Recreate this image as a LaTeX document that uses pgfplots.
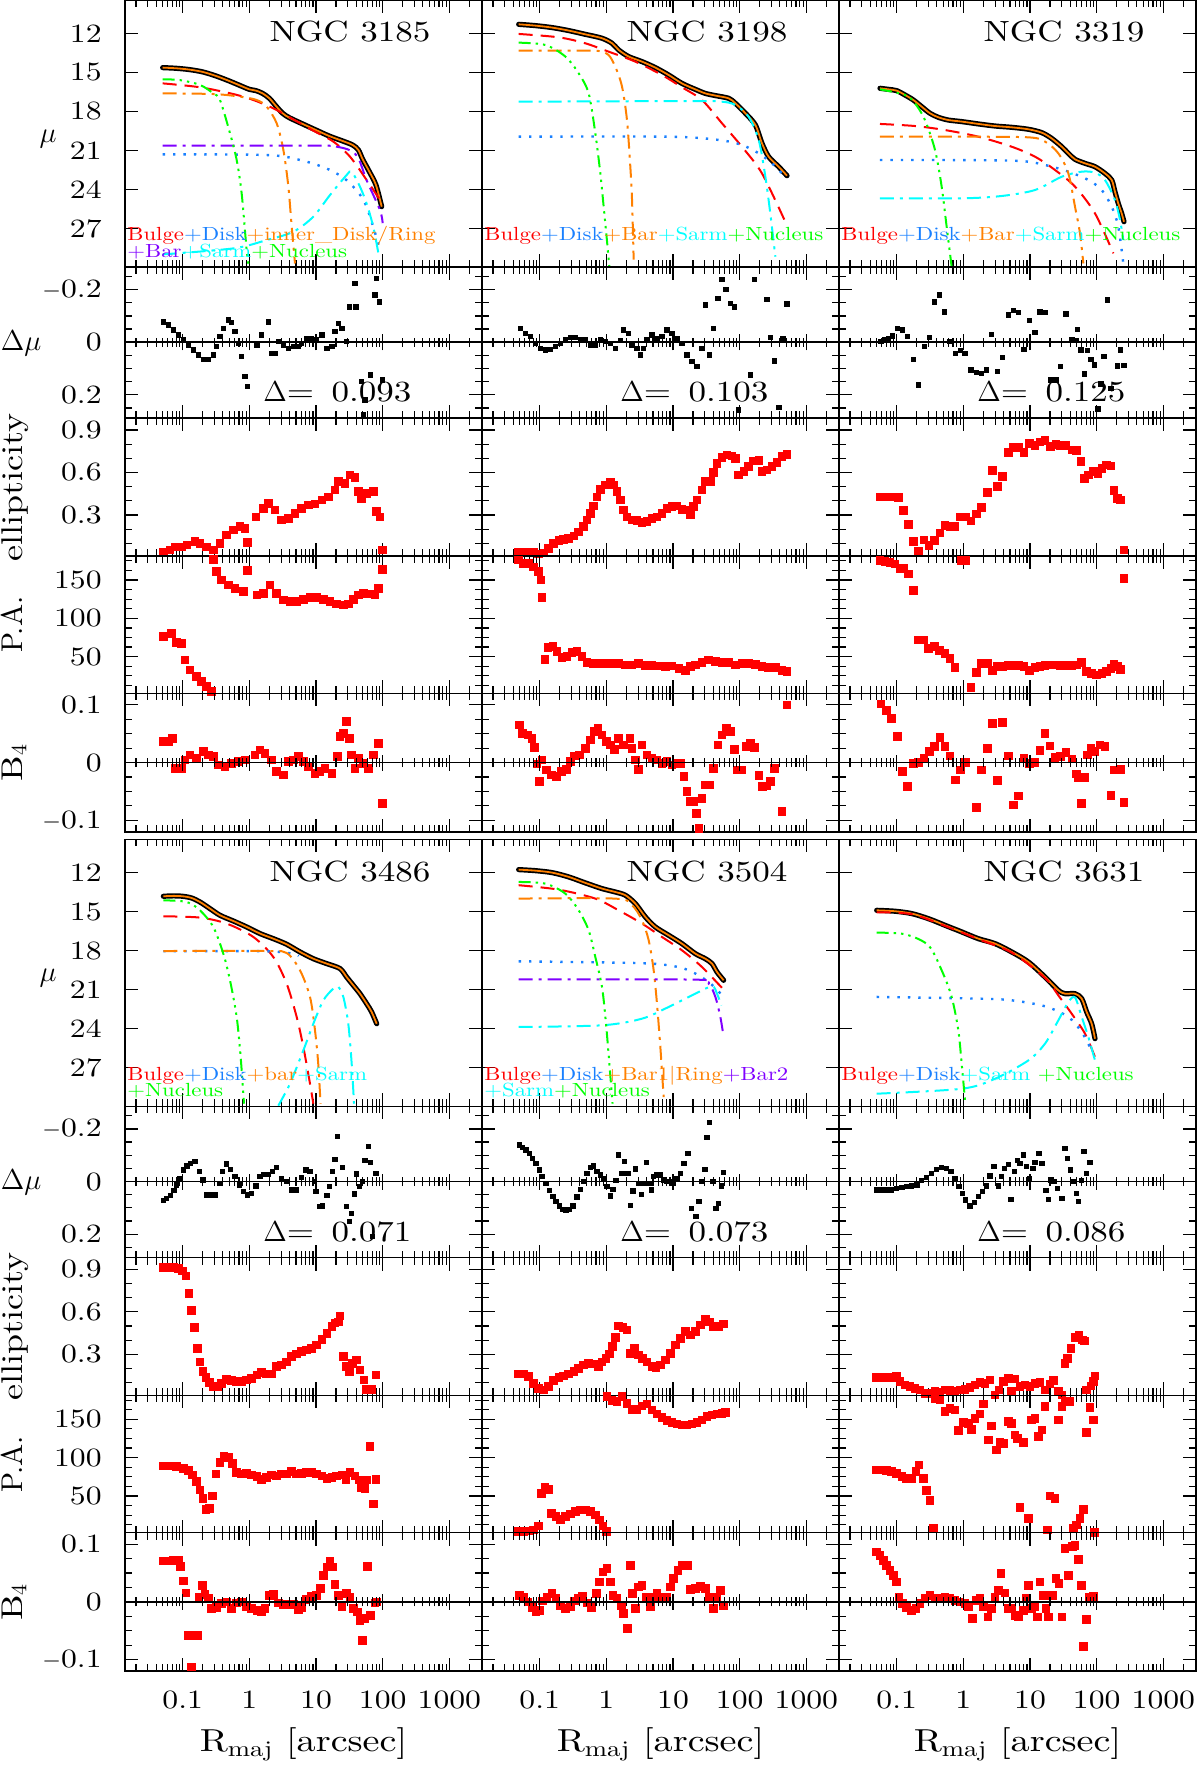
\documentclass[border=0pt]{standalone}
\usepackage{fontspec}
\setmainfont{lmroman10-regular.otf}[FakeStretch=1.2]
\usepackage{pgfplots}
\pgfplotsset{compat=1.18}
\usepackage{pgfplotstable}
\definecolor{cred}{rgb}{1,0,0}
\definecolor{cblue}{rgb}{0.1,0.5,1}
\definecolor{corange}{rgb}{1,0.5,0}
\definecolor{ccyan}{rgb}{0,1,1}
\definecolor{cgreen}{rgb}{0,1,0}
\definecolor{cpurple}{rgb}{0.5,0,1}
\newcommand\fs[1]{\fontsize{#1}{#1}\selectfont}
\newcommand\AX[2]{\begin{semilogxaxis}[scale only axis, width=178.5pt, anchor=north west, xmin=0.01365, xmax=3090,
  xtick={0.1,1,10,100,1000},
  minor xtick={0.02,0.03,0.04,0.05,0.06,0.07,0.08,0.09,0.2,0.3,0.4,0.5,0.6,0.7,0.8,0.9,2,3,4,5,6,7,8,9,20,30,40,50,60,70,80,90,200,300,400,500,600,700,800,900,2000,3000},
  xticklabels={}, axis line style={line width=0.8pt}, tick style={line width=0.6pt, black},
  major tick length=6.5pt, minor tick length=3.5pt,
  tick label style={font=\fs{13.2}, inner sep=0pt}, yticklabel style={xshift=-11.5pt},
  xticklabel style={yshift=-9.5pt}, at={(#1)}, #2]}
\newcommand\EX{\end{semilogxaxis}}
\newcommand\MU[2]{\AX{#1}{height=133.5pt, y dir=reverse, ymin=9.44, ymax=29.97, ytick={12,15,18,21,24,27}, yticklabels={12,15,18,21,24,27}, #2}}
\newcommand\DM[2]{\AX{#1}{height=75.65pt, y dir=reverse, ymin=-0.286, ymax=0.289, ytick={-0.2,0,0.2}, yticklabels={$-$0.2,0,0.2}, minor ytick={-0.25,-0.15,-0.1,-0.05,0.05,0.1,0.15,0.25}, #2}}
\newcommand\EL[2]{\AX{#1}{height=68.85pt, ymin=0.011, ymax=0.982, ytick={0.3,0.6,0.9}, yticklabels={0.3,0.6,0.9}, minor ytick={0.1,0.2,0.4,0.5,0.7,0.8}, #2}}
\newcommand\PA[2]{\AX{#1}{height=68.65pt, ymin=2.2, ymax=181.3, ytick={50,100,150}, yticklabels={50,100,150}, minor ytick={12.5,25,37.5,62.5,75,87.5,112.5,125,137.5,162.5,175}, #2}}
\newcommand\BF[2]{\AX{#1}{height=69.2pt, ymin=-0.1197, ymax=0.12, ytick={-0.1,0,0.1}, yticklabels={$-$0.1,0,0.1}, minor ytick={-0.075,-0.05,-0.025,0.025,0.05,0.075}, #2}}
\newcommand\ZL[1]{\begin{semilogxaxis}[scale only axis, width=178.5pt, height=2pt, anchor=west, at={(#1)}, xmin=0.01365, xmax=3090, ymin=-1, ymax=1,
  axis x line*=middle, axis y line=none, xtick={0.1,1,10,100,1000},
  minor xtick={0.02,0.03,0.04,0.05,0.06,0.07,0.08,0.09,0.2,0.3,0.4,0.5,0.6,0.7,0.8,0.9,2,3,4,5,6,7,8,9,20,30,40,50,60,70,80,90,200,300,400,500,600,700,800,900,2000,3000},
  xticklabels={}, tick align=center, major tick length=8pt, minor tick length=4.5pt,
  axis line style={line width=0.8pt}, tick style={line width=0.6pt, black}]\end{semilogxaxis}}
\tikzset{
 myProf/.style={black, line width=2.6pt, line cap=round, line join=round, smooth, no marks},
 myFit/.style={corange, line width=0.9pt, smooth, no marks},
 myBul/.style={cred, line width=1pt, dash pattern=on 7pt off 4pt, smooth, no marks},
 myDsk/.style={cblue, line width=1.2pt, dash pattern=on 1.2pt off 4pt, smooth, no marks},
 myDd/.style={line width=1pt, dash pattern=on 7pt off 3pt on 1.5pt off 3pt, smooth, no marks},
 myNuc/.style={cgreen, line width=1pt, dash pattern=on 6pt off 2.5pt on 1.2pt off 2.5pt on 1.2pt off 2.5pt on 1.2pt off 2.5pt, smooth, no marks},
 myDm/.style={black, only marks, mark=square*, mark size=1.1pt},
 myRs/.style={cred, only marks, mark=square*, mark size=1.9pt},
}
\pgfplotstableread{
r m
0.0501 14.64
0.0794 14.69
0.126 14.79
0.2 14.97
0.316 15.28
0.501 15.67
0.794 16.10
1 16.31
1.26 16.41
1.58 16.62
2.0 17.0
2.51 17.59
3.16 18.15
3.98 18.49
6.31 18.97
10 19.44
15.8 19.9
25.1 20.28
35.5 20.59
43.2 20.97
50.1 21.69
63.1 22.64
79.4 23.67
96.6 25.33
}\pA
\pgfplotstableread{
r m
0.0484 11.31
0.0861 11.41
0.153 11.56
0.272 11.79
0.484 12.08
0.861 12.38
1.22 12.77
1.53 13.28
2.16 13.79
3.43 14.18
5.43 14.64
8.61 15.21
13.6 15.85
21.6 16.31
30.5 16.62
43.2 16.79
68.4 17.0
86.1 17.38
122 18.15
172 19.05
216 20.46
272 21.49
385 22.26
513 22.95
}\pB
\pgfplotstableread{
r m
0.0562 16.23
0.075 16.31
0.1 16.41
0.133 16.74
0.178 17.13
0.237 17.64
0.316 18.15
0.422 18.46
0.596 18.67
0.944 18.79
1.68 18.97
2.99 19.13
5.31 19.23
9.44 19.38
15.0 19.64
21.1 20.08
29.9 20.72
37.6 21.23
47.3 21.69
66.8 22.0
94.4 22.26
133 22.77
168 23.28
188 24.18
211 25.08
237 25.85
257 26.49
}\pC
\pgfplotstableread{
r m
0.0513 13.82
0.0724 13.79
0.1 13.82
0.136 13.95
0.182 14.26
0.257 14.77
0.363 15.28
0.575 15.72
0.912 16.18
1.45 16.69
2.29 17.08
3.63 17.51
5.75 18.1
9.12 18.62
14.5 19.0
22.9 19.38
28.8 20.03
36.3 20.67
45.7 21.31
57.5 22.08
68.4 22.72
81.3 23.62
}\pD
\pgfplotstableread{
r m
0.0484 11.77
0.0861 11.85
0.153 12.0
0.272 12.33
0.484 12.79
0.861 13.23
1.36 13.49
1.93 13.74
2.72 14.38
3.85 15.41
5.43 16.18
8.61 16.82
13.6 17.46
21.6 18.23
30.5 18.62
38.5 19.0
45.7 19.64
57.5 20.28
}\pE
\pgfplotstableread{
r m
0.0501 14.9
0.0944 14.97
0.168 15.15
0.299 15.54
0.531 16.05
0.944 16.56
1.68 17.08
2.99 17.46
5.31 18.1
9.44 18.87
16.8 20.03
26.6 21.05
33.5 21.31
47.3 21.31
59.6 21.69
70.8 22.72
84.1 23.62
94.4 24.77
}\pF
\begin{document}
\begin{tikzpicture}
\useasboundingbox (0,0) rectangle (600pt,-885pt);
%================ NGC 3185 =================
\MU{62.5pt,0pt}{}
\addplot[myProf] table[x=r,y=m]{\pA};
\addplot[myFit] table[x=r,y=m]{\pA};
\addplot[myBul] coordinates {(0.0501,15.85)(0.182,16.15)(0.575,16.67)(1.15,17.13)(2.29,17.77)(4.57,18.62)(9.12,19.49)(18.2,20.33)(32.4,21.49)(57.5,23.28)(91.2,24.82)};
\addplot[myDsk] coordinates {(0.0501,21.31)(1.82,21.36)(5.75,21.74)(14.5,22.4)(28.8,23.3)(51.3,24.8)(72.4,26.9)(91.2,28.7)};
\addplot[myDd,corange] coordinates {(0.0501,16.62)(0.288,16.67)(0.724,16.87)(1.29,17.13)(1.82,17.64)(2.57,18.92)(3.24,20.97)(3.85,23.79)(4.32,26.87)(4.84,29.7)};
\addplot[myDd,cpurple] coordinates {(0.0501,20.64)(11.5,20.64)(20.4,20.72)(32.4,21.0)(43.2,21.6)(57.5,23.3)(91.2,25.6)(100,26.6)};
\addplot[myDd,ccyan] coordinates {(0.0501,29.0)(0.575,28.54)(1.82,27.9)(4.57,27.26)(9.12,26.1)(16.2,24.44)(28.8,22.9)(34.3,22.64)(45.7,23.8)(57.5,25.1)(72.4,26.9)(86.1,28.9)};
\addplot[myNuc] coordinates {(0.0501,15.54)(0.091,15.6)(0.182,15.97)(0.288,16.62)(0.363,17.13)(0.513,19.69)(0.646,21.74)(0.767,24.3)(0.912,28.67)(1.0,30.2)};
\EX
\DM{62.5pt,-133.5pt}{}
\addplot[myDm] coordinates {(0.0513,-0.078)(0.061,-0.066)(0.0724,-0.047)(0.0861,-0.028)(0.102,-0.009)(0.122,0.010)(0.145,0.029)(0.172,0.048)(0.204,0.065)(0.243,0.065)(0.288,0.048)(0.324,0.016)(0.363,-0.022)(0.407,-0.053)(0.484,-0.085)(0.543,-0.075)(0.61,-0.041)(0.684,0.004)(0.767,0.054)(0.861,0.130)(0.933,0.168)(1.29,0.010)(1.53,-0.028)(1.93,-0.078)(2.16,0.042)(2.43,0.042)(2.72,-0.003)(3.24,0.010)(3.85,0.023)(4.57,0.016)(5.43,0.016)(6.1,0.004)(7.24,-0.015)(8.61,-0.015)(10.2,-0.009)(12.2,-0.028)(14.5,0.023)(17.2,0.016)(19.3,-0.041)(21.6,-0.072)(24.3,-0.053)(28.8,-0.003)(31.6,-0.135)(39.8,-0.135)(38.5,-0.224)(48.4,0.149)(54.3,0.219)(51.3,0.276)(66.1,0.124)(76.7,-0.180)(89.1,-0.154)(81.3,-0.243)(100,0.143)};
\EX
\ZL{62.5pt,-171.15pt}
\EL{62.5pt,-209.15pt}{}
\addplot[myRs] coordinates {(0.0513,0.036)(0.0646,0.053)(0.0767,0.076)(0.0966,0.076)(0.115,0.088)(0.153,0.112)(0.182,0.1)(0.229,0.076)(0.288,0.053)(0.363,0.1)(0.457,0.159)(0.575,0.194)(0.724,0.218)(0.861,0.206)(0.933,0.105)(1.26,0.288)(1.62,0.347)(1.93,0.382)(2.43,0.335)(3.05,0.265)(3.85,0.276)(4.84,0.312)(6.1,0.347)(7.67,0.371)(9.66,0.378)(12.2,0.406)(15.3,0.429)(19.3,0.476)(21.6,0.535)(27.2,0.524)(32.4,0.582)(38.5,0.566)(43.2,0.465)(48.4,0.418)(57.5,0.453)(72.4,0.465)(81.3,0.324)(91.2,0.288)(100,0.053)};
\EX
\PA{62.5pt,-278pt}{}
\addplot[myRs] coordinates {(0.0513,76.1)(0.0684,80.4)(0.0813,68.3)(0.0966,67.4)(0.108,45.7)(0.129,32.6)(0.162,23.9)(0.193,17.4)(0.229,10.9)(0.272,4.3)(0.288,177)(0.324,160.9)(0.385,150)(0.484,143.5)(0.61,139.1)(0.813,134.8)(0.933,162.2)(1.29,130.4)(1.62,132.6)(2.04,143.5)(2.57,132.6)(3.24,123.9)(4.07,121.7)(5.13,121.7)(6.46,124.8)(8.13,127.4)(10.2,127.4)(12.9,124.8)(16.2,121.7)(20.4,118.7)(25.7,117.4)(30.5,118.7)(36.3,124.8)(43.2,130.4)(51.3,132.6)(64.6,131.7)(76.7,130.4)(86.1,139.1)(100,163.9)};
\EX
\BF{62.5pt,-346.65pt}{}
\addplot[myRs] coordinates {(0.0513,0.0364)(0.061,0.0364)(0.0708,0.0422)(0.0767,-0.0098)(0.0966,-0.0098)(0.108,0.0046)(0.129,0.0133)(0.162,0.0075)(0.204,0.0191)(0.243,0.0133)(0.288,0.0104)(0.343,-0.004)(0.431,-0.0069)(0.543,-0.0012)(0.684,0.0017)(0.861,0.0046)(1.22,0.0133)(1.45,0.022)(1.72,0.0162)(2.16,0.0046)(2.57,-0.0156)(3.24,-0.0214)(3.85,0.0017)(4.57,0.0046)(5.43,0.0104)(6.46,0.0017)(7.67,-0.0069)(9.66,-0.0185)(11.5,-0.0156)(13.6,-0.0098)(17.2,-0.0185)(20.9,0.0104)(22.9,0.0451)(25.7,0.0509)(28.8,0.0711)(31.6,0.0422)(34.3,0.0133)(38.5,-0.0098)(43.2,0.0075)(51.3,-0.0012)(61,-0.0098)(72.4,0.0133)(86.1,0.0335)(100,-0.0705)};
\EX
\ZL{62.5pt,-381.3pt}
%================ NGC 3198 =================
\MU{241pt,0pt}{yticklabels={}}
\addplot[myProf] table[x=r,y=m]{\pB};
\addplot[myFit] table[x=r,y=m]{\pB};
\addplot[myBul] coordinates {(0.0484,12.05)(0.193,12.31)(0.484,12.77)(1.08,13.41)(2.72,14.18)(6.84,15.21)(13.6,16.15)(27.2,17.13)(54.3,18.92)(108,20.72)(216,22.77)(484,26.5)};
\addplot[myDsk] coordinates {(0.0484,19.95)(8.61,19.95)(48.4,20.2)(108,20.59)(193,21.23)(305,22.0)(431,22.77)};
\addplot[myDd,corange] coordinates {(0.0484,13.33)(0.272,13.33)(0.767,13.36)(1.08,13.67)(1.36,14.56)(1.72,16.1)(2.04,18.67)(2.29,22.26)(2.43,24.82)(2.57,29.4)};
\addplot[myDd,ccyan] coordinates {(0.0484,17.26)(21.6,17.21)(54.3,17.26)(86.1,17.51)(136,18.41)(193,20.2)(243,23.03)(288,25.85)(343,29.18)};
\addplot[myNuc] coordinates {(0.0484,12.72)(0.122,12.9)(0.243,13.79)(0.385,15.08)(0.543,16.62)(0.684,19.69)(0.813,22.77)(0.912,25.33)(1.02,27.9)(1.11,29.95)};
\EX
\DM{241pt,-133.5pt}{yticklabels={}}
\addplot[myDm] coordinates {(0.0513,-0.053)(0.061,-0.034)(0.0724,-0.022)(0.0861,0.004)(0.102,0.023)(0.122,0.029)(0.145,0.027)(0.172,0.016)(0.204,0.004)(0.243,-0.009)(0.288,-0.018)(0.343,-0.018)(0.407,-0.011)(0.484,-0.009)(0.575,0.010)(0.684,0.010)(0.813,-0.009)(0.966,-0.003)(1.15,0.004)(1.36,0.023)(1.62,-0.006)(1.82,-0.047)(2.16,-0.034)(2.43,0.010)(2.88,0.023)(3.24,0.048)(3.63,0.023)(4.07,-0.009)(4.84,-0.028)(5.75,-0.015)(6.84,-0.022)(8.13,-0.047)(9.66,-0.034)(11.5,-0.015)(13.6,0.004)(16.2,0.048)(19.3,0.073)(22.9,0.092)(27.2,0.023)(30.5,-0.142)(35.1,0.048)(40.7,-0.053)(47.3,-0.167)(54.3,-0.239)(62.4,-0.201)(72.4,-0.148)(83.2,-0.135)(96.6,0.257)(145,0.124)(166,-0.239)(257,-0.163)(288,-0.019)(335,0.071)(385,0.247)(447,-0.015)(513,-0.146)};
\EX
\ZL{241pt,-171.15pt}
\EL{241pt,-209.15pt}{yticklabels={}}
\addplot[myRs] coordinates {(0.0484,0.041)(0.0575,0.041)(0.0684,0.041)(0.0813,0.041)(0.0966,0.025)(0.115,0.034)(0.136,0.065)(0.162,0.1)(0.193,0.119)(0.229,0.128)(0.272,0.135)(0.324,0.152)(0.385,0.182)(0.457,0.218)(0.513,0.265)(0.575,0.312)(0.646,0.364)(0.724,0.429)(0.813,0.481)(0.966,0.512)(1.15,0.528)(1.29,0.512)(1.45,0.465)(1.62,0.406)(1.82,0.335)(2.04,0.288)(2.43,0.265)(2.88,0.26)(3.43,0.248)(4.07,0.253)(4.84,0.276)(5.75,0.288)(6.84,0.312)(8.13,0.347)(9.66,0.359)(11.5,0.364)(13.6,0.34)(16.2,0.335)(18.2,0.3)(20.4,0.359)(22.9,0.406)(27.2,0.476)(30.5,0.535)(36.3,0.535)(40.7,0.599)(45.7,0.665)(54.3,0.707)(64.6,0.724)(76.7,0.716)(86.1,0.7)(96.6,0.582)(115,0.606)(136,0.641)(162,0.681)(193,0.684)(216,0.606)(257,0.618)(305,0.641)(363,0.669)(431,0.712)(513,0.728)};
\EX
\PA{241pt,-278pt}{yticklabels={}}
\addplot[myRs] coordinates {(0.0484,176)(0.0575,171.7)(0.0684,171.7)(0.0813,167)(0.0966,160.9)(0.105,150)(0.108,127.4)(0.119,46.5)(0.133,62.2)(0.157,63)(0.182,56.5)(0.216,49.1)(0.257,50)(0.305,55.7)(0.363,56.5)(0.431,50)(0.513,42.2)(0.646,41.3)(0.861,41.3)(1.15,41.3)(1.53,41.3)(1.93,39.1)(2.43,39.1)(3.05,41.3)(3.85,38.3)(4.84,38.3)(6.1,37.8)(7.67,37)(9.66,37.8)(12.2,34.8)(15.3,31.7)(18.2,37)(21.6,39.1)(27.2,42.2)(34.3,45.7)(43.2,43.5)(54.3,42.6)(68.4,42.6)(86.1,39.1)(108,41.3)(136,41.3)(172,40)(216,37)(272,36.1)(343,35.7)(431,31.7)(513,30.4)};
\EX
\BF{241pt,-346.65pt}{yticklabels={}}
\addplot[myRs] coordinates {(0.0501,0.0653)(0.0556,0.0509)(0.0668,0.048)(0.0767,0.0422)(0.0832,0.0266)(0.0912,-0.0023)(0.1,-0.033)(0.108,0.0046)(0.126,-0.0127)(0.15,-0.0214)(0.178,-0.0243)(0.211,-0.0156)(0.251,-0.0116)(0.288,0.0017)(0.335,0.0116)(0.398,0.0133)(0.484,0.0249)(0.575,0.0393)(0.668,0.0538)(0.75,0.0595)(0.861,0.048)(1.0,0.0364)(1.15,0.0306)(1.33,0.0231)(1.53,0.0422)(1.82,0.0306)(2.26,0.0422)(2.43,0.0249)(2.72,0.0046)(3.05,-0.0116)(3.43,0.0306)(4.07,0.0133)(4.84,0.0075)(5.75,0.0046)(6.84,-0.0012)(8.13,0.0017)(9.66,-0.004)(11.5,-0.0012)(12.9,-0.0012)(14.5,-0.0243)(16.2,-0.0503)(18.2,-0.0676)(20.4,-0.0676)(22.4,-0.0879)(24.3,-0.1139)(27.2,-0.0618)(30.5,-0.0387)(35.1,-0.0387)(40.7,-0.0098)(47.3,0.0306)(54.3,0.048)(63.1,0.0595)(72.4,0.0538)(83.2,0.0231)(91.2,-0.0127)(108,-0.0127)(124,0.0277)(145,0.0335)(168,0.0266)(193,-0.0225)(221,-0.0416)(257,-0.0405)(288,-0.033)(335,-0.0098)(431,-0.085)(513,0.1)};
\EX
\ZL{241pt,-381.3pt}
%================ NGC 3319 =================
\MU{419.5pt,0pt}{yticklabels={}}
\addplot[myProf] table[x=r,y=m]{\pC};
\addplot[myFit] table[x=r,y=m]{\pC};
\addplot[myBul] coordinates {(0.0562,18.97)(0.188,19.13)(0.531,19.44)(1.68,19.95)(5.31,20.72)(11.9,21.49)(23.7,22.51)(47.3,23.79)(94.4,25.85)(178,28.92)};
\addplot[myDsk] coordinates {(0.0562,21.74)(5.31,21.79)(16.8,22.13)(37.6,22.64)(75,23.28)(119,24.05)(168,25.33)(211,26.87)(251,29.7)};
\addplot[myDd,corange] coordinates {(0.0562,19.95)(0.944,19.95)(9.44,20.0)(16.8,20.33)(26.6,21.23)(37.6,22.77)(47.3,25.33)(56.2,27.38)(63.1,29.7)};
\addplot[myDd,ccyan] coordinates {(0.0562,24.69)(0.944,24.69)(3.76,24.51)(11.9,24.05)(29.9,23.03)(59.6,22.64)(94.4,22.72)(133,23.28)(188,24.82)(224,26.36)(251,27.9)};
\addplot[myNuc] coordinates {(0.0562,16.31)(0.133,16.74)(0.188,17.38)(0.266,18.67)(0.376,20.97)(0.473,23.79)(0.562,26.87)(0.668,29.95)};
\EX
\DM{419.5pt,-133.5pt}{yticklabels={}}
\addplot[myDm] coordinates {(0.0582,-0.003)(0.0668,-0.009)(0.075,-0.013)(0.0861,-0.024)(0.102,-0.053)(0.122,-0.047)(0.146,-0.022)(0.178,0.065)(0.211,0.162)(0.26,0.016)(0.309,-0.018)(0.367,-0.154)(0.437,-0.180)(0.519,-0.116)(0.631,-0.003)(0.767,0.042)(0.912,0.032)(1.06,0.042)(1.3,0.105)(1.58,0.115)(1.88,0.118)(2.24,0.105)(2.66,-0.030)(3.27,0.111)(3.89,0.057)(4.73,-0.104)(5.62,-0.120)(6.68,-0.113)(8.13,0.027)(9.77,-0.082)(11.9,-0.037)(14.1,-0.116)(16.8,-0.114)(20.4,0.143)(24.3,0.143)(28.8,0.092)(34.7,-0.108)(42.2,-0.011)(50.1,-0.006)(51.9,-0.049)(58.2,0.029)(65.3,0.120)(73.3,0.032)(82.2,0.065)(92.3,0.086)(104,0.254)(116,0.158)(129,0.054)(146,-0.161)(164,0.175)(204,0.090)(229,0.029)(257,0.089)};
\EX
\ZL{419.5pt,-171.15pt}
\EL{419.5pt,-209.15pt}{yticklabels={}}
\addplot[myRs] coordinates {(0.0562,0.429)(0.0668,0.429)(0.0794,0.429)(0.0944,0.429)(0.106,0.425)(0.126,0.331)(0.15,0.232)(0.178,0.112)(0.211,0.046)(0.257,0.124)(0.305,0.084)(0.367,0.119)(0.447,0.175)(0.531,0.227)(0.631,0.22)(0.75,0.22)(0.891,0.288)(1.08,0.288)(1.3,0.258)(1.58,0.307)(1.88,0.354)(2.29,0.46)(2.72,0.615)(3.27,0.5)(3.89,0.573)(4.73,0.74)(5.62,0.775)(6.68,0.775)(8.13,0.74)(9.77,0.806)(11.9,0.792)(14.1,0.815)(16.8,0.825)(20.4,0.782)(24.3,0.796)(28.8,0.792)(34.7,0.792)(42.2,0.759)(50.1,0.754)(58.2,0.676)(65.3,0.559)(75,0.582)(89.1,0.606)(104,0.594)(119,0.629)(141,0.653)(164,0.646)(182,0.472)(204,0.418)(229,0.406)(257,0.053)};
\EX
\PA{419.5pt,-278pt}{yticklabels={}}
\addplot[myRs] coordinates {(0.0562,175.2)(0.0668,173.9)(0.0794,172.6)(0.0944,170.9)(0.112,165.2)(0.126,165.2)(0.15,157.8)(0.178,136.1)(0.211,71.7)(0.251,71.7)(0.299,60.9)(0.367,63)(0.437,57.8)(0.531,54.3)(0.631,47.8)(0.75,36.1)(0.923,175.2)(1.08,175.2)(1.3,10)(1.58,29.6)(1.88,41.3)(2.29,41.3)(2.72,31.7)(3.27,37)(3.89,37)(4.73,38.3)(5.62,38.3)(6.68,38.3)(8.13,37)(9.77,31.7)(11.9,35.7)(14.1,37)(16.8,38.3)(20.4,39.1)(24.3,39.1)(28.8,38.3)(34.7,38.3)(42.2,38.3)(50.1,39.1)(59.6,42.6)(70.8,30.4)(84.1,28.3)(100,26.1)(119,28.3)(141,30.4)(164,34.8)(182,40.4)(204,37)(229,33.5)(257,152.2)};
\EX
\BF{419.5pt,-346.65pt}{yticklabels={}}
\addplot[myRs] coordinates {(0.0582,0.1017)(0.0708,0.0902)(0.0841,0.0769)(0.102,0.0451)(0.122,-0.0156)(0.146,-0.0416)(0.178,-0.0012)(0.211,0)(0.257,0.0075)(0.309,0.0191)(0.367,0.0277)(0.447,0.0439)(0.531,0.0277)(0.631,0.0116)(0.767,-0.0301)(0.912,-0.0127)(1.08,0)(1.58,-0.0775)(1.88,-0.0127)(2.29,0.0249)(2.72,0.0682)(3.27,-0.0312)(3.89,0.0699)(4.73,0.0116)(5.62,-0.0734)(6.68,-0.0578)(8.13,0.0075)(9.77,-0.0012)(11.9,0)(14.1,0.0208)(16.8,0.0509)(20,0.0289)(23.7,0.0092)(28.8,0.0104)(34.7,0.0179)(42.2,0.0064)(50.1,-0.0197)(53.1,-0.0254)(59.6,-0.0705)(65.3,-0.0254)(73.3,0.0133)(82.2,0.0249)(94.4,0.0191)(112,0.0306)(133,0.0277)(164,-0.0572)(182,-0.0127)(229,-0.0116)(257,-0.0688)};
\EX
\ZL{419.5pt,-381.3pt}
%================ NGC 3486 =================
\MU{62.5pt,-419.65pt}{}
\addplot[myProf] table[x=r,y=m]{\pD};
\addplot[myFit] table[x=r,y=m]{\pD};
\addplot[myBul] coordinates {(0.0513,15.36)(0.182,15.46)(0.457,15.92)(1.15,16.95)(2.29,18.49)(3.63,20.54)(5.13,23.1)(6.46,25.41)(8.13,28.23)(9.12,29.77)};
\addplot[myDsk] coordinates {(0.0513,18.05)(1.82,18.05)(4.57,18.25)(5.5,18.4)};
\addplot[myDd,corange] coordinates {(0.0513,18.03)(1.82,18.03)(3.63,18.18)(5.75,19.51)(8.13,21.56)(9.66,24.13)(10.8,26.69)(11.7,29.77)};
\addplot[myDd,ccyan] coordinates {(2.72,29.92)(4.07,28.23)(6.46,25.67)(9.12,23.62)(12.9,21.82)(18.2,20.92)(21.6,20.79)(25.7,21.56)(30.5,23.62)(34.3,26.69)(37.2,29.77)};
\addplot[myNuc] coordinates {(0.0513,14.13)(0.115,14.26)(0.182,14.9)(0.288,16.18)(0.407,18.23)(0.513,20.28)(0.646,23.1)(0.741,26.18)(0.832,29.77)};
\EX
\DM{62.5pt,-553.15pt}{}
\addplot[myDm] coordinates {(0.0513,0.072)(0.0575,0.063)(0.0661,0.053)(0.0741,0.034)(0.0813,0.013)(0.0912,-0.013)(0.102,-0.044)(0.115,-0.059)(0.132,-0.070)(0.153,-0.076)(0.178,-0.038)(0.2,-0.006)(0.229,0.051)(0.263,0.051)(0.305,0.051)(0.363,0.006)(0.398,-0.038)(0.457,-0.067)(0.525,-0.047)(0.61,-0.019)(0.708,0.013)(0.813,0.038)(0.933,0.051)(1.08,0.044)(1.26,0.016)(1.45,-0.019)(1.66,-0.028)(1.93,-0.028)(2.24,-0.038)(2.57,-0.054)(3.05,-0.013)(3.63,0)(4.32,0.032)(5.13,0.032)(6.1,-0.016)(7.08,-0.044)(8.13,-0.038)(9.44,0)(10,0.038)(11.2,0.095)(12.6,0.092)(14.5,0.053)(15.8,0.019)(17.6,-0.038)(19.3,-0.085)(21.1,-0.171)(25.1,-0.054)(28.8,0.095)(31.6,0.152)(34.3,0.120)(37.6,0.047)(40.7,-0.029)(44.7,0.019)(50.1,0)(54.3,-0.080)(61,-0.133)(66.1,-0.072)(70.8,0.209)(79.4,-0.032)};
\EX
\ZL{62.5pt,-590.8pt}
\EL{62.5pt,-628.8pt}{}
\addplot[myRs] coordinates {(0.0513,0.913)(0.061,0.913)(0.0724,0.913)(0.0861,0.906)(0.1,0.889)(0.112,0.852)(0.124,0.73)(0.136,0.608)(0.15,0.488)(0.166,0.342)(0.182,0.248)(0.2,0.178)(0.224,0.136)(0.251,0.1)(0.288,0.072)(0.331,0.072)(0.385,0.096)(0.457,0.124)(0.543,0.115)(0.646,0.108)(0.767,0.108)(0.912,0.119)(1.08,0.131)(1.29,0.154)(1.53,0.171)(1.82,0.162)(2.16,0.162)(2.57,0.213)(3.05,0.225)(3.63,0.248)(4.32,0.284)(5.13,0.302)(6.1,0.319)(7.24,0.331)(8.61,0.342)(10.2,0.366)(12.2,0.406)(14.5,0.448)(17.2,0.495)(19.3,0.523)(21.6,0.53)(22.9,0.57)(25.7,0.284)(28.8,0.213)(31.6,0.178)(35.5,0.237)(40.7,0.26)(45.7,0.19)(52.5,0.119)(57.5,0.054)(68.4,0.054)(79.4,0.154)};
\EX
\PA{62.5pt,-697.65pt}{}
\addplot[myRs] coordinates {(0.0513,89.1)(0.0646,89.1)(0.0813,88.3)(0.102,86.1)(0.122,83)(0.141,77.4)(0.162,68.7)(0.182,57.8)(0.2,47)(0.224,32.6)(0.251,33.9)(0.282,50)(0.316,78.7)(0.363,93.5)(0.417,102.2)(0.484,100.4)(0.562,92.6)(0.646,80.4)(0.767,78.7)(0.912,79.6)(1.08,77.4)(1.29,75.2)(1.53,71.7)(1.82,74.3)(2.16,77.4)(2.57,76.1)(3.05,78.7)(3.63,78.7)(4.32,81.7)(5.13,78.7)(6.1,79.6)(7.24,80.4)(8.61,80.4)(10.2,78.7)(12.2,76.1)(14.5,73)(17.2,73.9)(20.4,76.1)(24.3,77.4)(28.2,70.9)(32.4,80.4)(38.5,76.1)(44.7,70.9)(48.4,61.3)(54.3,60)(57.5,70.9)(64.6,114.4)(72.4,39.6)(79.4,71.7)};
\EX
\BF{62.5pt,-766.3pt}{xticklabels={0.1,1,10,100,1000}}
\addplot[myRs] coordinates {(0.0513,0.0711)(0.061,0.0711)(0.0724,0.0723)(0.0861,0.0723)(0.0933,0.0618)(0.102,0.0364)(0.112,0.0156)(0.122,-0.0578)(0.136,-0.1127)(0.166,-0.0578)(0.176,0.0087)(0.197,0.0289)(0.216,0.0133)(0.243,0.0058)(0.272,-0.0116)(0.324,-0.0098)(0.385,-0.0029)(0.457,0)(0.543,-0.0116)(0.646,-0.0017)(0.767,0)(0.912,-0.0087)(1.08,-0.0116)(1.29,-0.0145)(1.53,-0.0173)(1.72,-0.0116)(2.0,0.0116)(2.29,0.0133)(2.72,-0.0017)(3.24,-0.004)(3.85,-0.004)(4.57,-0.004)(5.43,-0.0133)(6.1,-0.0098)(7.08,0.004)(8.61,0.0098)(10.2,0.0116)(11.7,0.0231)(12.9,0.0462)(14.5,0.0607)(16.2,0.0711)(17.8,0.0607)(19.3,0.0306)(21.6,0.0116)(24.3,-0.0075)(28.8,0.0145)(32.4,0.0087)(36.3,-0.0116)(41.7,-0.0173)(45.7,-0.0318)(49.5,-0.0665)(54.3,-0.0289)(59.6,0.0618)(66.1,-0.0231)(76.7,-0.0017)(81.3,0)};
\EX
\ZL{62.5pt,-800.95pt}
%================ NGC 3504 =================
\MU{241pt,-419.65pt}{yticklabels={}}
\addplot[myProf] table[x=r,y=m]{\pE};
\addplot[myFit] table[x=r,y=m]{\pE};
\addplot[myBul] coordinates {(0.0484,12.97)(0.193,13.31)(0.684,14.0)(1.53,14.9)(3.43,15.92)(6.84,16.95)(13.6,17.97)(27.2,19.26)(57.5,21.0)};
\addplot[myDsk] coordinates {(0.0484,18.82)(2.72,18.95)(8.61,19.13)(17.2,19.51)(34.3,20.41)(57.5,21.56)};
\addplot[myDd,corange] coordinates {(0.0484,14.0)(1.36,14.0)(2.43,14.51)(3.43,15.67)(4.32,17.21)(5.13,19.51)(5.75,22.08)(6.46,25.41)(7.24,29.26)};
\addplot[myDd,cpurple] coordinates {(0.0484,20.21)(21.6,20.23)(34.3,20.54)(43.2,21.56)(51.3,23.1)(57.5,24.64)};
\addplot[myDd,ccyan] coordinates {(0.0484,23.87)(0.861,23.74)(3.43,23.23)(8.61,22.33)(21.6,21.31)(38.5,20.74)(45.7,21.31)(53.1,22.21)};
\addplot[myNuc] coordinates {(0.0484,12.72)(0.122,12.85)(0.243,13.62)(0.385,14.9)(0.543,16.44)(0.684,18.49)(0.861,20.79)(0.989,23.62)(1.11,26.69)(1.24,29.77)};
\EX
\DM{241pt,-553.15pt}{yticklabels={}}
\addplot[myDm] coordinates {(0.0495,-0.139)(0.0556,-0.130)(0.0624,-0.120)(0.07,-0.108)(0.0785,-0.089)(0.0881,-0.070)(0.0989,-0.044)(0.111,-0.019)(0.124,0.006)(0.14,0.034)(0.157,0.057)(0.176,0.076)(0.197,0.092)(0.221,0.105)(0.248,0.108)(0.279,0.105)(0.313,0.092)(0.363,0.059)(0.407,0.029)(0.457,0)(0.513,-0.032)(0.575,-0.054)(0.646,-0.059)(0.724,-0.038)(0.813,-0.025)(0.912,-0.013)(1.02,0.019)(1.15,0.054)(1.26,0.029)(1.4,-0.004)(1.53,-0.101)(1.72,-0.032)(1.88,-0.076)(2.11,-0.032)(2.29,0.091)(2.51,0.035)(2.72,-0.048)(3.05,0.006)(3.35,0.048)(3.63,0.006)(3.98,-0.073)(4.32,0.006)(4.73,0.032)(5.13,-0.019)(5.75,-0.025)(6.46,-0.025)(7.24,-0.006)(8.13,0)(9.12,0)(10.2,0.006)(11.5,-0.013)(12.9,-0.032)(14.5,-0.070)(16.8,-0.108)(18.8,0.101)(22.1,0.133)(24.3,0.076)(27.2,0)(29.9,-0.047)(32.4,-0.168)(35.1,-0.224)(39.8,0)(44.2,0.101)(48.4,0.082)(53.1,0.016)(57.5,-0.034)};
\EX
\ZL{241pt,-590.8pt}
\EL{241pt,-628.8pt}{yticklabels={}}
\addplot[myRs] coordinates {(0.0484,0.161)(0.0575,0.161)(0.0684,0.143)(0.0813,0.096)(0.0966,0.061)(0.115,0.049)(0.136,0.072)(0.162,0.115)(0.193,0.138)(0.229,0.147)(0.272,0.161)(0.324,0.178)(0.385,0.201)(0.457,0.225)(0.543,0.237)(0.646,0.232)(0.767,0.213)(0.861,0.248)(0.989,0.272)(1.11,0.302)(1.24,0.354)(1.36,0.42)(1.53,0.5)(1.76,0.49)(2.04,0.471)(2.29,0.307)(2.66,0.342)(3.05,0.295)(3.51,0.272)(4.07,0.248)(4.84,0.213)(5.56,0.208)(6.46,0.225)(7.67,0.26)(9.12,0.307)(10.8,0.366)(12.9,0.413)(15.3,0.46)(18.2,0.436)(21.6,0.46)(25.7,0.507)(30.5,0.546)(35.1,0.53)(40.7,0.495)(48.4,0.495)(57.5,0.514)};
\EX
\PA{241pt,-697.65pt}{yticklabels={}}
\addplot[myRs] coordinates {(0.0484,3.5)(0.0575,3.5)(0.0684,4.3)(0.0813,5.6)(0.0966,10.9)(0.106,53.5)(0.119,61.3)(0.136,58.7)(0.15,27.4)(0.176,23)(0.204,19.6)(0.243,23)(0.288,26.5)(0.343,29.6)(0.407,31.7)(0.484,31.7)(0.575,29.6)(0.684,25.2)(0.794,18.7)(0.891,10.9)(1.0,3.5)(1.02,179.6)(1.22,174.4)(1.45,173)(1.72,179.6)(2.04,170.9)(2.43,163)(2.88,163)(3.43,167.4)(4.07,170)(4.84,162.2)(5.75,157)(6.84,152.6)(8.13,148.3)(9.66,145.7)(11.5,143.9)(13.6,142.6)(16.2,142.6)(19.3,143.9)(22.9,145.7)(27.2,149.1)(32.4,153.5)(38.5,155.7)(45.7,157)(54.3,157.8)(61,158.7)};
\EX
\BF{241pt,-766.3pt}{xticklabels={0.1,1,10,100,1000}, yticklabels={}}
\addplot[myRs] coordinates {(0.0495,0.0116)(0.0575,0.0087)(0.0668,0)(0.0767,-0.0098)(0.0881,-0.0173)(0.0989,-0.0145)(0.111,0.0017)(0.129,0.0087)(0.153,0.0145)(0.176,0.0058)(0.204,-0.0058)(0.243,-0.0116)(0.288,-0.0075)(0.335,0.0017)(0.385,0.0058)(0.442,0.0098)(0.513,-0.0017)(0.596,-0.0098)(0.708,0.0145)(0.794,0.0347)(0.891,0.052)(1.02,0.0578)(1.15,0.0347)(1.26,0.0116)(1.45,0.0058)(1.68,-0.0058)(1.82,-0.0202)(2.07,-0.0462)(2.29,0.0636)(2.48,0.0145)(2.72,-0.0116)(3.05,0.026)(3.43,0.0289)(3.94,0.0087)(4.57,-0.0087)(5.13,0.0087)(5.75,0.0145)(6.84,0.0087)(7.94,0.0087)(9.12,0.026)(10.2,0.0405)(11.9,0.0549)(13.6,0.0636)(16.6,0.0636)(18.2,0.0214)(21.6,0.0231)(25.7,0.0272)(30.5,0.0231)(35.1,0.0087)(40.7,-0.0116)(45.7,0.0087)(51.3,0.0202)(57.5,-0.0058)};
\EX
\ZL{241pt,-800.95pt}
%================ NGC 3631 =================
\MU{419.5pt,-419.65pt}{yticklabels={}}
\addplot[myProf] table[x=r,y=m]{\pF};
\addplot[myFit] table[x=r,y=m]{\pF};
\addplot[myBul] coordinates {(0.0501,15.05)(0.168,15.2)(0.531,16.1)(1.68,17.12)(5.31,18.15)(16.8,20.1)(26.6,21.44)(42.2,22.85)(66.8,24.38)(94.4,26.18)};
\addplot[myDsk] coordinates {(0.0501,21.56)(1.68,21.69)(5.31,21.82)(16.8,22.28)(37.6,23.1)(59.6,24.26)(84.1,25.67)};
\addplot[myDd,ccyan] coordinates {(0.0501,29.0)(0.944,28.62)(2.99,27.85)(9.44,26.44)(16.8,25.15)(26.6,23.36)(37.6,21.95)(47.3,21.6)(59.6,23.1)(75,24.64)(94.4,26.44)};
\addplot[myNuc] coordinates {(0.0501,16.62)(0.133,16.74)(0.299,17.59)(0.473,19.51)(0.668,21.56)(0.841,24.13)(0.944,26.69)(1.06,29.51)};
\EX
\DM{419.5pt,-553.15pt}{yticklabels={}}
\addplot[myDm] coordinates {(0.0501,0.032)(0.0596,0.032)(0.0708,0.032)(0.0841,0.032)(0.1,0.025)(0.119,0.022)(0.141,0.019)(0.168,0.016)(0.2,0.013)(0.237,-0.004)(0.282,-0.016)(0.335,-0.032)(0.398,-0.047)(0.473,-0.054)(0.562,-0.051)(0.653,-0.038)(0.75,-0.013)(0.861,0.019)(0.966,0.044)(1.08,0.070)(1.26,0.092)(1.45,0.080)(1.68,0.057)(1.93,0.038)(2.24,0.016)(2.51,-0.022)(2.88,-0.057)(3.35,0.016)(3.76,-0.019)(4.12,-0.051)(4.73,-0.066)(5.19,0.067)(5.82,-0.038)(6.46,-0.080)(7.08,-0.070)(7.94,-0.101)(8.91,-0.057)(9.77,-0.013)(11.0,-0.051)(11.9,-0.073)(13.6,-0.108)(15,-0.070)(17.2,0.034)(18.8,0.067)(20.7,-0.006)(22.9,0)(26,0.025)(29.9,0.063)(33.5,-0.127)(36.7,-0.089)(40.7,-0.044)(44.7,0)(50.1,0.044)(53.1,0.076)(59.6,-0.004)(64.6,-0.114)(70.8,-0.032)(79.4,-0.073)};
\EX
\ZL{419.5pt,-590.8pt}
\EL{419.5pt,-628.8pt}{yticklabels={}}
\addplot[myRs] coordinates {(0.0501,0.138)(0.0596,0.138)(0.0708,0.138)(0.0841,0.138)(0.1,0.143)(0.112,0.108)(0.133,0.084)(0.158,0.072)(0.188,0.061)(0.224,0.049)(0.266,0.025)(0.316,0.025)(0.376,0.037)(0.447,0.03)(0.531,0.049)(0.631,0.044)(0.75,0.037)(0.891,0.049)(1.06,0.054)(1.26,0.068)(1.5,0.084)(1.78,0.1)(2.11,0.096)(2.51,0.119)(2.99,0.014)(3.43,0.049)(3.98,0.108)(4.73,0.131)(5.31,0.037)(5.96,0.126)(7.08,0.072)(8.41,0.084)(10,0.072)(11.9,0.096)(14.1,0.1)(16.8,0.049)(20,0.091)(22.4,0.115)(26.6,0.037)(29.9,0.014)(33.5,0.237)(36.7,0.272)(41.2,0.342)(47.3,0.42)(54.3,0.436)(61,0.401)(65.3,0.396)(70.8,0.049)(82.2,0.077)(89.1,0.108)(94.4,0.147)};
\EX
\PA{419.5pt,-697.65pt}{yticklabels={}}
\addplot[myRs] coordinates {(0.0501,83.9)(0.0596,83.9)(0.0708,83)(0.0841,81.7)(0.1,79.6)(0.119,75.2)(0.141,73)(0.168,73)(0.193,81.7)(0.216,90.4)(0.251,73)(0.282,57)(0.316,43.9)(0.355,7.8)(0.376,177.4)(0.447,175.2)(0.531,160)(0.631,164.4)(0.75,162.2)(0.841,135.2)(1.0,145.7)(1.19,144.8)(1.33,137)(1.5,151.3)(1.78,157)(2.0,170)(2.37,123)(2.66,141.3)(3.16,110)(3.55,119.6)(3.98,118.7)(4.73,147)(5.31,144.8)(5.96,129.6)(6.53,125.2)(7.08,35.2)(7.94,119.6)(9.44,20.9)(10.6,149.1)(11.9,151.3)(13.3,127.4)(15,136.1)(16.8,166.5)(18.4,5.6)(20,50)(23.7,47)(26.6,149.1)(29.9,166.5)(34.3,173)(39.8,173)(44.7,7.8)(50.1,12.2)(56.2,20.9)(63.1,32.6)(70.8,132.6)(79.4,165.7)(89.1,149.1)(92.3,2.2)};
\EX
\BF{419.5pt,-766.3pt}{xticklabels={0.1,1,10,100,1000}, yticklabels={}}
\addplot[myRs] coordinates {(0.0501,0.0867)(0.0562,0.0809)(0.0631,0.0723)(0.0708,0.0636)(0.0794,0.0549)(0.0891,0.0462)(0.1,0.0347)(0.108,0.0087)(0.122,-0.0029)(0.141,-0.0098)(0.168,-0.0145)(0.193,-0.0116)(0.224,-0.0029)(0.266,0.0058)(0.316,0.0116)(0.376,0.0058)(0.447,0.0058)(0.531,0.0087)(0.631,0.0058)(0.75,0.0029)(0.891,0)(1.06,-0.0029)(1.19,-0.0075)(1.36,-0.0289)(1.58,0.0029)(1.78,0.0058)(2.0,-0.0087)(2.32,-0.026)(2.66,-0.0116)(2.99,0.0087)(3.35,0.0202)(3.67,0.0491)(4.22,0.0156)(4.73,-0.0116)(5.31,-0.0116)(5.96,-0.0231)(6.68,-0.026)(7.94,-0.0145)(8.91,0.0058)(9.44,0.0289)(10.6,-0.0116)(11.9,-0.0087)(13,-0.026)(14.1,0.0347)(15.8,0.0116)(17.2,-0.0116)(18.8,-0.026)(21.6,0.0116)(24.3,0.0405)(27.2,0.0318)(29.9,-0.026)(33.5,0.0925)(37.6,0.0462)(43.2,0.0965)(47.3,0.0983)(53.1,0.0734)(59.6,0.0289)(63.1,-0.0769)(70.8,-0.0306)(76.7,0.0087)(89.1,0.0098)};
\EX
\ZL{419.5pt,-800.95pt}
%================ texts =================
\begin{scope}[every node/.style={inner sep=0pt}]
\node[anchor=base, font=\fs{14.6}] at (175pt,-20.85pt) {NGC 3185};
\node[anchor=base, font=\fs{14.6}] at (353.5pt,-20.85pt) {NGC 3198};
\node[anchor=base, font=\fs{14.6}] at (532pt,-20.85pt) {NGC 3319};
\node[anchor=base, font=\fs{14.6}] at (175pt,-440.5pt) {NGC 3486};
\node[anchor=base, font=\fs{14.6}] at (353.5pt,-440.5pt) {NGC 3504};
\node[anchor=base, font=\fs{14.6}] at (532pt,-440.5pt) {NGC 3631};
\node[anchor=base west, font=\fs{14.6}] at (131.5pt,-201pt) {$\Delta$=\hspace{0.6em}0.093};
\node[anchor=base west, font=\fs{14.6}] at (310pt,-201pt) {$\Delta$=\hspace{0.6em}0.103};
\node[anchor=base west, font=\fs{14.6}] at (488.5pt,-201pt) {$\Delta$=\hspace{0.6em}0.125};
\node[anchor=base west, font=\fs{14.6}] at (131.5pt,-620.65pt) {$\Delta$=\hspace{0.6em}0.071};
\node[anchor=base west, font=\fs{14.6}] at (310pt,-620.65pt) {$\Delta$=\hspace{0.6em}0.073};
\node[anchor=base west, font=\fs{14.6}] at (488.5pt,-620.65pt) {$\Delta$=\hspace{0.6em}0.086};
\node[anchor=base west, font=\fs{9.5}] at (63.5pt,-120.35pt) {\textcolor{cred}{Bulge}\textcolor{cblue}{+Disk}\textcolor{corange}{+inner\_Disk/Ring}};
\node[anchor=base west, font=\fs{9.5}] at (63.5pt,-128.65pt) {\textcolor{cpurple}{+Bar}\textcolor{ccyan}{+Sarm}\textcolor{cgreen}{+Nucleus}};
\node[anchor=base west, font=\fs{9.5}] at (242pt,-120.35pt) {\textcolor{cred}{Bulge}\textcolor{cblue}{+Disk}\textcolor{corange}{+Bar}\textcolor{ccyan}{+Sarm}\textcolor{cgreen}{+Nucleus}};
\node[anchor=base west, font=\fs{9.5}] at (420.5pt,-120.35pt) {\textcolor{cred}{Bulge}\textcolor{cblue}{+Disk}\textcolor{corange}{+Bar}\textcolor{ccyan}{+Sarm}\textcolor{cgreen}{+Nucleus}};
\node[anchor=base west, font=\fs{9.5}] at (63.5pt,-540pt) {\textcolor{cred}{Bulge}\textcolor{cblue}{+Disk}\textcolor{corange}{+bar}\textcolor{ccyan}{+Sarm}};
\node[anchor=base west, font=\fs{9.5}] at (63.5pt,-548.3pt) {\textcolor{cgreen}{+Nucleus}};
\node[anchor=base west, font=\fs{9.5}] at (242pt,-540pt) {\textcolor{cred}{Bulge}\textcolor{cblue}{+Disk}\textcolor{corange}{+Bar1\textbar Ring}\textcolor{cpurple}{+Bar2}};
\node[anchor=base west, font=\fs{9.5}] at (242pt,-548.3pt) {\textcolor{ccyan}{+Sarm}\textcolor{cgreen}{+Nucleus}};
\node[anchor=base west, font=\fs{9.5}] at (420.5pt,-540pt) {\textcolor{cred}{Bulge}\textcolor{cblue}{+Disk}\textcolor{ccyan}{+Sarm}\textcolor{cgreen}{\ +Nucleus}};
\node[font=\fs{15}] at (24pt,-69.5pt) {$\mu$};
\node[font=\fs{15}] at (10.5pt,-171.5pt) {$\Delta\mu$};
\node[rotate=90, anchor=base, font=\fs{15}] at (11pt,-243.6pt) {ellipticity};
\node[rotate=90, anchor=base, font=\fs{15}] at (11pt,-312.35pt) {\scalebox{0.82}[1]{P.A.}};
\node[rotate=90, anchor=base, font=\fs{15}] at (11pt,-381.25pt) {B$_4$};
\node[font=\fs{15}] at (24pt,-489.15pt) {$\mu$};
\node[font=\fs{15}] at (10.5pt,-591.15pt) {$\Delta\mu$};
\node[rotate=90, anchor=base, font=\fs{15}] at (11pt,-663.25pt) {ellipticity};
\node[rotate=90, anchor=base, font=\fs{15}] at (11pt,-732pt) {\scalebox{0.82}[1]{P.A.}};
\node[rotate=90, anchor=base, font=\fs{15}] at (11pt,-800.9pt) {B$_4$};
\node[anchor=base, font=\fs{15.9}] at (151.75pt,-875.85pt) {R\textsubscript{maj} [arcsec]};
\node[anchor=base, font=\fs{15.9}] at (330.25pt,-875.85pt) {R\textsubscript{maj} [arcsec]};
\node[anchor=base, font=\fs{15.9}] at (508.75pt,-875.85pt) {R\textsubscript{maj} [arcsec]};
\end{scope}
\end{tikzpicture}
\end{document}
